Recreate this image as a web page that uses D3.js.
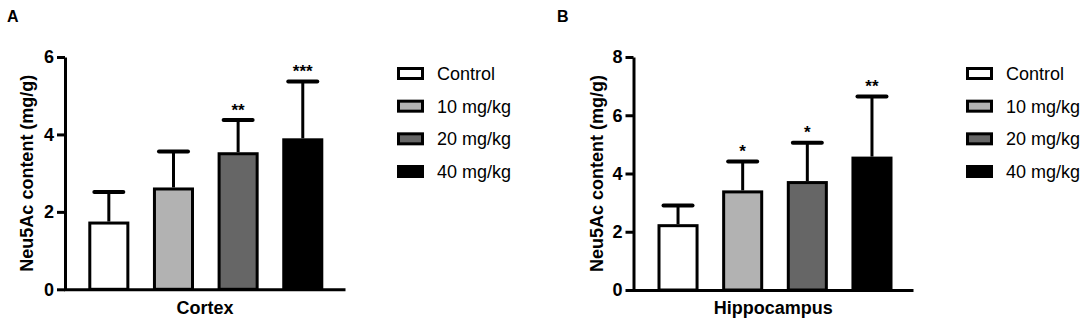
<!DOCTYPE html>
<html>
<head>
<meta charset="utf-8">
<script src="https://cdn.jsdelivr.net/npm/d3@7"></script>
<style>
  html, body { margin: 0; padding: 0; background: #fff; }
  svg { display: block; }
  text { font-family: "Liberation Sans", Arial, Helvetica, sans-serif; }
</style>
</head>
<body>
<svg id="chart" width="1084" height="320"></svg>
<script>
// ---- data ----
const groups = ["Control", "10 mg/kg", "20 mg/kg", "40 mg/kg"];
const groupFills = ["#ffffff", "#b2b2b2", "#666666", "#000000"];

const cortexMean = [1.75, 2.63, 3.54, 3.90];
const cortexSD   = [0.76, 0.93, 0.83, 1.47];
const cortexSig  = ["", "", "**", "***"];
const cortexTicks = [0, 2, 4, 6];

const hippoMean = [2.26, 3.42, 3.74, 4.58];
const hippoSD   = [0.64, 0.99, 1.32, 2.06];
const hippoSig  = ["", "*", "*", "**"];
const hippoTicks = [0, 2, 4, 6, 8];

const panels = [
  { letter: "A", title: "Cortex", mean: cortexMean, sd: cortexSD, sig: cortexSig, ticks: cortexTicks, yMax: 6,
    letterX: 7, axisX: 65, axisEnd: 345, bar0: 88.3, bar1: 323.3, y0: 289.3, yTop: 57, labelX: 27, legendX: 397 },
  { letter: "B", title: "Hippocampus", mean: hippoMean, sd: hippoSD, sig: hippoSig, ticks: hippoTicks, yMax: 8,
    letterX: 557, axisX: 633.5, axisEnd: 913, bar0: 657.5, bar1: 892.5, y0: 290, yTop: 57, labelX: 597, legendX: 966 }
];

const svg = d3.select("#chart");
const FONT_BOLD = 700;

panels.forEach(p => {
  const g = svg.append("g");

  // panel letter
  g.append("text").attr("x", p.letterX).attr("y", 22)
    .attr("font-size", 16).attr("font-weight", FONT_BOLD).attr("fill", "#000")
    .text(p.letter);

  const y = d3.scaleLinear().domain([0, p.yMax]).range([p.y0, p.yTop]);
  const x = d3.scaleBand().domain(groups).range([p.bar0, p.bar1]).paddingInner(0.365).paddingOuter(0);
  const bw = x.bandwidth();

  // bars
  groups.forEach((grp, i) => {
    const top = y(p.mean[i]);
    g.append("rect")
      .attr("x", x(grp) + 1.5).attr("width", bw - 3)
      .attr("y", top + 1.5).attr("height", p.y0 - top - 1.5)
      .attr("fill", groupFills[i]).attr("stroke", "#000").attr("stroke-width", 3);
  });

  // error bars (upper only)
  groups.forEach((grp, i) => {
    const cx = x(grp) + bw / 2;
    const top = y(p.mean[i]);
    const et = y(p.mean[i] + p.sd[i]);
    g.append("line").attr("x1", cx).attr("x2", cx).attr("y1", top).attr("y2", et)
      .attr("stroke", "#000").attr("stroke-width", 3);
    g.append("line").attr("x1", cx - 14.5).attr("x2", cx + 14.5).attr("y1", et).attr("y2", et)
      .attr("stroke", "#000").attr("stroke-width", 4).attr("stroke-linecap", "round");
    if (p.sig[i]) {
      g.append("text").attr("x", cx).attr("y", et - 14 + 9.5)
        .attr("text-anchor", "middle").attr("font-size", 17).attr("font-weight", FONT_BOLD)
        .text(p.sig[i]);
    }
  });

  // y axis
  const ya = g.append("g").attr("transform", `translate(${p.axisX},0)`)
    .call(d3.axisLeft(y).tickValues(p.ticks).tickFormat(d3.format("d")).tickSize(8).tickSizeOuter(0).tickPadding(3));
  ya.select(".domain").attr("stroke", "#000").attr("stroke-width", 3);
  ya.selectAll(".tick line").attr("stroke", "#000").attr("stroke-width", 3);
  ya.selectAll(".tick text").attr("font-size", 18).attr("font-weight", FONT_BOLD).attr("fill", "#000")
    .attr("font-family", "'Liberation Sans', Arial, sans-serif");

  // x axis line
  const xl = d3.scaleLinear().domain([0, 1]).range([p.axisX - 1.5, p.axisEnd]);
  const xa = g.append("g").attr("transform", `translate(0,${p.y0})`)
    .call(d3.axisBottom(xl).tickValues([]).tickSizeOuter(0));
  xa.select(".domain").attr("stroke", "#000").attr("stroke-width", 3);

  // x title
  g.append("text").attr("x", (p.axisX + p.axisEnd) / 2).attr("y", 314)
    .attr("text-anchor", "middle").attr("font-size", 18).attr("font-weight", FONT_BOLD)
    .text(p.title);

  // y title
  g.append("text")
    .attr("transform", `translate(${p.labelX},${(p.yTop + p.y0) / 2}) rotate(-90)`)
    .attr("text-anchor", "middle").attr("dominant-baseline", "central")
    .attr("font-size", 18).attr("font-weight", FONT_BOLD)
    .text("Neu5Ac content (mg/g)");

  // legend
  const ly = d3.scalePoint().domain(groups).range([73.5, 171.5]);
  groups.forEach((grp, i) => {
    const cy = ly(grp);
    g.append("rect").attr("x", p.legendX + 1.5).attr("y", cy - 5)
      .attr("width", 24).attr("height", 10)
      .attr("fill", groupFills[i]).attr("stroke", "#000").attr("stroke-width", 3);
    g.append("text").attr("x", p.legendX + 40).attr("y", cy + 6.5)
      .attr("font-size", 18).attr("fill", "#000").text(grp);
  });
});
</script>
</body>
</html>
